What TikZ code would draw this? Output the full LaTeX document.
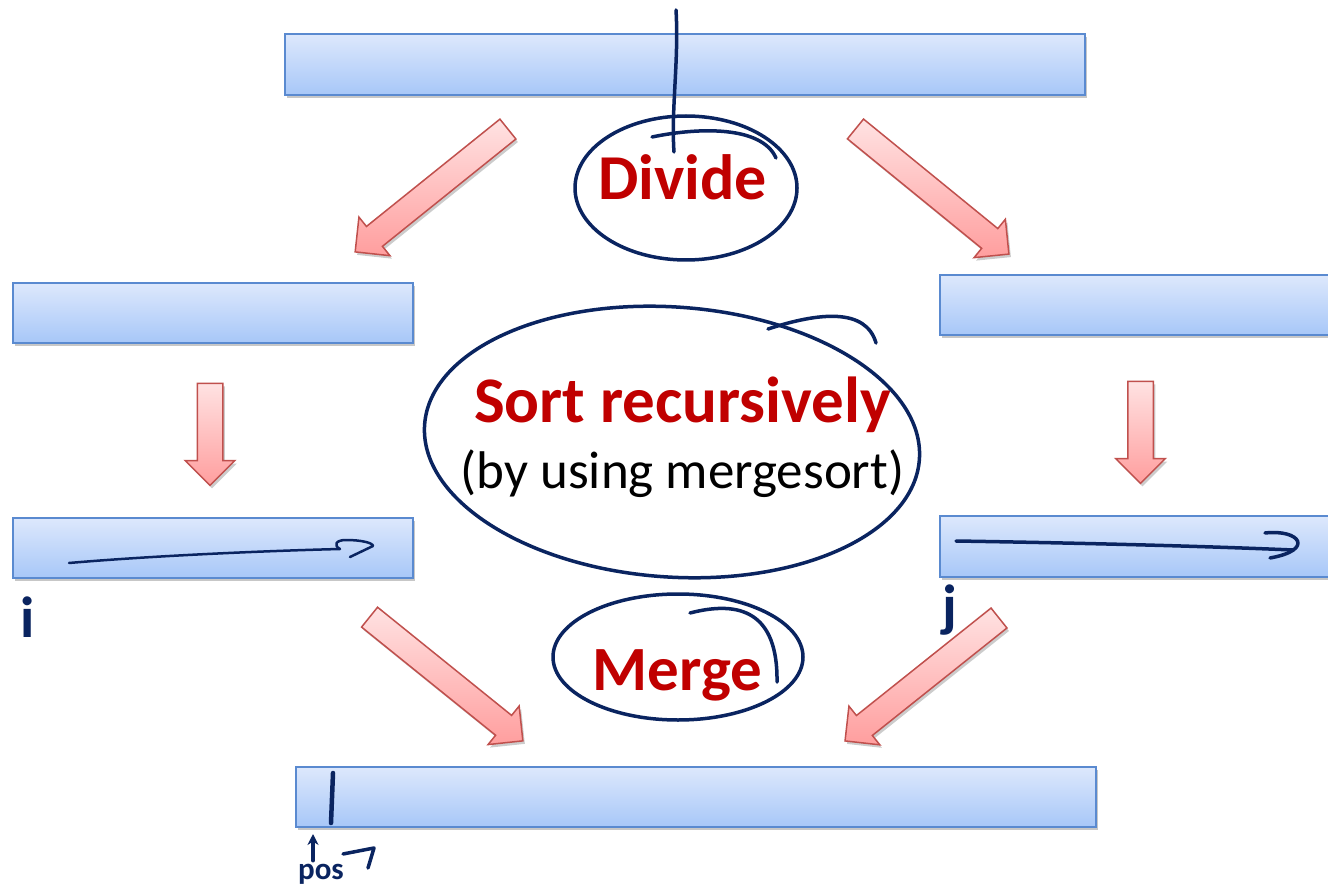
\documentclass[tikz,border=0pt]{standalone}
\usepackage{fontspec}
\setmainfont{Carlito}
\usetikzlibrary{shapes.arrows,shadows,arrows.meta}
\definecolor{barTop}{HTML}{DDE8FC}
\definecolor{barBot}{HTML}{A7C7F8}
\definecolor{barLine}{HTML}{5A8AD0}
\definecolor{arTop}{HTML}{FFE2E2}
\definecolor{arBot}{HTML}{FF9E9E}
\definecolor{arLine}{HTML}{C0504D}
\definecolor{titleRed}{HTML}{C00000}
\definecolor{ink}{HTML}{0A2460}
\begin{document}
\begin{tikzpicture}[x=1pt,y=-1pt,
  bar/.style={draw=barLine, line width=1.5pt, top color=barTop, bottom color=barBot,
    minimum height=60pt, inner sep=0pt,
    drop shadow={shadow xshift=2pt, shadow yshift=-3pt, opacity=0.22, fill=black}},
  blockarrow/.style={single arrow, draw=arLine, line width=1.5pt, top color=arTop, bottom color=arBot,
    inner xsep=0pt, inner ysep=12pt, single arrow head extend=12pt, minimum height=#1,
    drop shadow={shadow xshift=2pt, shadow yshift=-3pt, opacity=0.2, fill=black}},
  title/.style={text=titleRed, font=\fontsize{63}{63}\selectfont\bfseries, inner sep=0pt, anchor=base},
  sub/.style={text=black, font=\fontsize{53}{53}\selectfont, inner sep=0pt, anchor=base},
  pen/.style={draw=ink, line width=3.5pt, line cap=round, line join=round},
  thinpen/.style={draw=ink, line width=2.5pt, line cap=round, line join=round},
  hand/.style={text=ink, inner sep=0pt}
]
\clip (0,0) rectangle (1328,890);
\fill[white] (0,0) rectangle (1328,890);

% bars
\node[bar, minimum width=800pt, minimum height=61pt] (top) at (685,64.5) {};
\node[bar, minimum width=400pt] (l1) at (213,313) {};
\node[bar, minimum width=400pt] (r1) at (1140,305) {};
\node[bar, minimum width=400pt] (l2) at (213,548) {};
\node[bar, minimum width=400pt, minimum height=61pt] (r2) at (1140,546.5) {};
\node[bar, minimum width=800pt] (bot) at (696,797) {};

% block arrows
\node[blockarrow=196pt, rotate=-141.2] (a1) at (436.5,186.5) {};
\node[blockarrow=198pt, rotate=-39.2] (a2) at (927.25,187.5) {};
\node[blockarrow=102pt, rotate=-90] (a3) at (210,428) {};
\node[blockarrow=102pt, rotate=-90] (a4) at (1140.5,426) {};
\node[blockarrow=197pt, rotate=-38.9] (a5) at (441.25,675) {};
\node[blockarrow=197pt, rotate=-141.4] (a6) at (927,675.5) {};

% texts
\node[title, font=\fontsize{64}{64}\selectfont\bfseries] (divide) at (682.5,200) {Divide};
\node[title, font=\fontsize{65}{65}\selectfont\bfseries] (sortrec) at (682.5,422) {Sort recursively};
\node[sub] (using) at (682.5,488) {(by using mergesort)};
\node[title] (merge) at (677.5,690) {Merge};

% handwritten ellipses
\draw[pen] (686,188) ellipse [x radius=111, y radius=72];
\draw[pen] (652,137) .. controls (700,127) and (762,126) .. (776,158);
\draw[pen] (676,10) .. controls (679,60) and (671,110) .. (674,152);

\draw[pen, rotate around={-4:(672,442)}] (672,442) ellipse [x radius=248, y radius=135];
\draw[pen] (768,329) .. controls (820,312) and (866,308) .. (876,343);

\draw[pen] (678,657) ellipse [x radius=125, y radius=63];
\draw[pen] (690,613) .. controls (740,600) and (778,612) .. (777,682);

% strokes in bars
\draw[thinpen] (69,563) .. controls (150,556) and (260,551) .. (340,549)
  .. controls (333,545) and (336,540) .. (346,540) .. controls (362,540) and (373,543) .. (373,546) -- (350,557);
\draw[pen] (956,541) .. controls (1080,543) and (1200,546) .. (1293,550);
\draw[pen] (1265,533) .. controls (1300,529) and (1315,550) .. (1270,558);
\draw[pen, line width=4.5pt] (333,773) -- (331,823);

% handwritten labels
\node[hand, font=\fontsize{58}{58}\selectfont\bfseries] (ilab) at (28,617) {i};
\node[hand, font=\fontsize{58}{58}\selectfont\bfseries] (jlab) at (950,610) {j};
\node[hand, font=\fontsize{31}{31}\selectfont\bfseries] (pos) at (321,874) {pos};
\coordinate (posup) at (313,834);
\draw[pen, -{Stealth[length=11pt,width=11pt]}] (pos.north -| posup) ++(0,-3) -- (posup);
\coordinate (pa) at (343,854);
\coordinate (pb) at (374,848);
\coordinate (pc) at (368,868);
\draw[pen] (pa) -- (pb) -- (pc);
\end{tikzpicture}
\end{document}
